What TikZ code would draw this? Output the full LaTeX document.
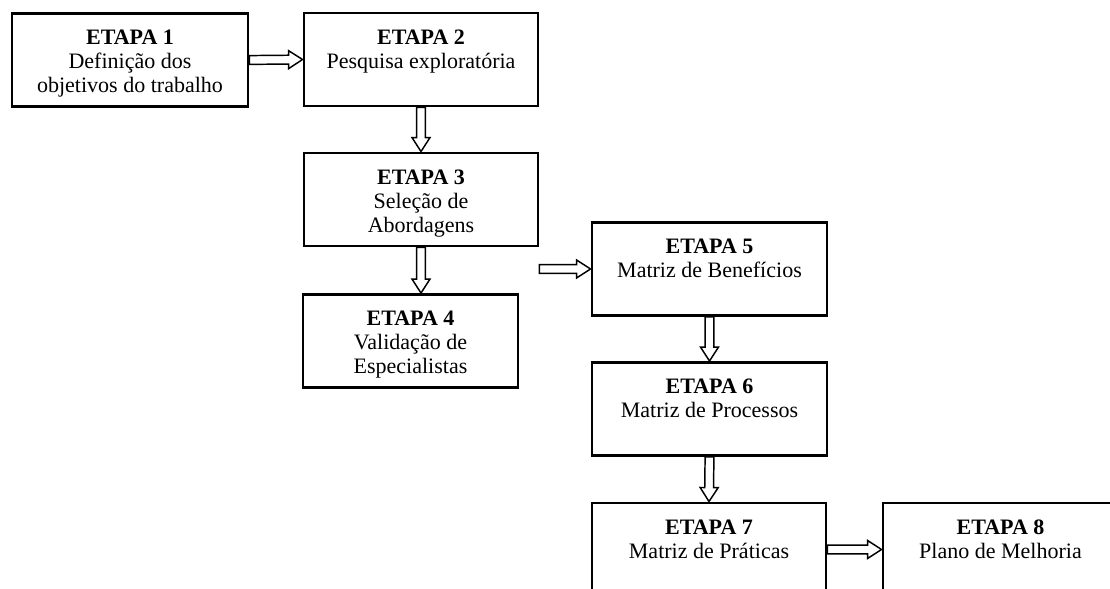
\documentclass[tikz,border=0pt]{standalone}
\usepackage{fontspec}
\setmainfont{Liberation Serif}
\usetikzlibrary{calc,backgrounds}
\def\pxu{0.545pt}
\tikzset{
  stage/.style    = {draw=black, line width=1.6pt, inner sep=0pt, minimum height=93*\pxu},
  stagetxt/.style = {anchor=north, align=center, inner sep=0pt,
                     font=\fontsize{12}{13}\selectfont},
  blockarr/.style = {draw=black, fill=white, line width=0.8pt, line join=miter,
                     to path={($(\tikztostart)!2.4pt!90:(\tikztotarget)$)
                       -- ($(\tikztotarget)!7.6pt!(\tikztostart)!2.4pt!-90:(\tikztostart)$)
                       -- ($(\tikztotarget)!7.6pt!(\tikztostart)!4.9pt!-90:(\tikztostart)$)
                       -- (\tikztotarget)
                       -- ($(\tikztotarget)!7.6pt!(\tikztostart)!4.9pt!90:(\tikztostart)$)
                       -- ($(\tikztotarget)!7.6pt!(\tikztostart)!2.4pt!90:(\tikztostart)$)
                       -- ($(\tikztostart)!2.4pt!-90:(\tikztotarget)$) -- cycle}},
}
\begin{document}
\begin{tikzpicture}[x=\pxu, y=-\pxu]
  \useasboundingbox (0,0) rectangle (1110,589);
  \clip (0,0) rectangle (1110,589);
  \foreach \n/\x/\y/\w/\t in {1/130/60/236/{Definição dos\\objetivos do trabalho},
                             2/421/59.5/234/{Pesquisa exploratória},
                             3/421/199.5/234/{Seleção de\\Abordagens},
                             4/410.5/341/215/{Validação de\\Especialistas},
                             5/709.5/269/235/{Matriz de Benefícios},
                             6/709.5/409/235/{Matriz de Processos},
                             7/709/549.5/234/{Matriz de Práticas},
                             8/1000.5/549.5/235/{Plano de Melhoria}} {
     \node[stage, minimum width=\w*\pxu] (s\n) at (\x,\y) {};
     \node[stagetxt] (t\n) at ($(s\n.north)+(0,18)$) {\textbf{ETAPA \n}\\\t};
  }
  \coordinate (a35) at (s3.east |- s5.west);
  \coordinate (a34) at (s3.south |- s4.north);
  \begin{scope}[on background layer]
    \draw[blockarr] (s1.east) to (s2.west);
    \draw[blockarr] (s2.south) to (s3.north);
    \draw[blockarr] (s3.south) to (a34);
    \draw[blockarr] (a35) to (s5.west);
    \draw[blockarr] (s5.south) to (s6.north);
    \draw[blockarr] (s6.south) to (s7.north);
    \draw[blockarr] (s7.east) to (s8.west);
  \end{scope}
\end{tikzpicture}
\end{document}
